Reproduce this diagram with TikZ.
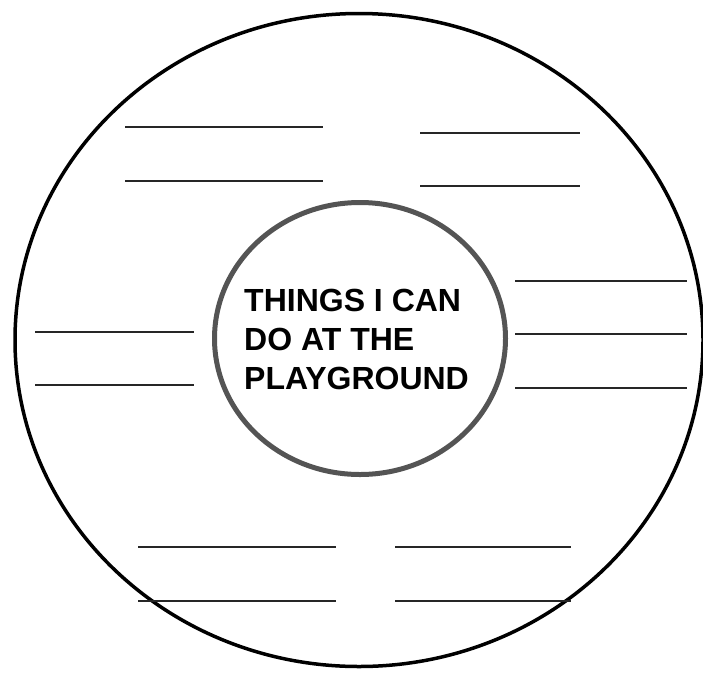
\documentclass[tikz,border=0pt]{standalone}
\usepackage{fontspec}
\setmainfont{Liberation Sans}
\usetikzlibrary{shapes.geometric}

\begin{document}
\begin{tikzpicture}[x=1pt, y=-1pt,
  ring/.style={ellipse, draw, line width=3.5pt, inner sep=0pt},
  hub/.style={ellipse, draw=black!67, line width=5pt, inner sep=0pt},
  title/.style={inner sep=0pt, align=left, font=\fontsize{32}{39}\selectfont\bfseries},
  blank/.style={draw=black!85, line width=1.3pt},
]
  \useasboundingbox (0,0) rectangle (703,672);

  % Outer ring
  \node[ring, minimum width=688pt, minimum height=653pt] (outer) at (359,340) {};

  % Centre circle
  \node[hub, minimum width=291pt, minimum height=272pt] (hub) at (360,338.5) {};
  \node[title, anchor=north west] (topic) at (244,289) {THINGS I CAN\\DO AT THE\\PLAYGROUND};

  % Writing lines, top
  \draw[blank] (125,127) -- (323,127);
  \draw[blank] (125,181) -- (323,181);
  \draw[blank] (420,133) -- (580,133);
  \draw[blank] (420,186) -- (580,186);

  % Writing lines, sides
  \draw[blank] (35,332) -- (194,332);
  \draw[blank] (35,385) -- (194,385);
  \draw[blank] (515,281) -- (687,281);
  \draw[blank] (515,334) -- (687,334);
  \draw[blank] (515,388) -- (687,388);

  % Writing lines, bottom
  \draw[blank] (138,547) -- (336,547);
  \draw[blank] (138,601) -- (336,601);
  \draw[blank] (395,547) -- (571,547);
  \draw[blank] (395,601) -- (571,601);
\end{tikzpicture}
\end{document}
